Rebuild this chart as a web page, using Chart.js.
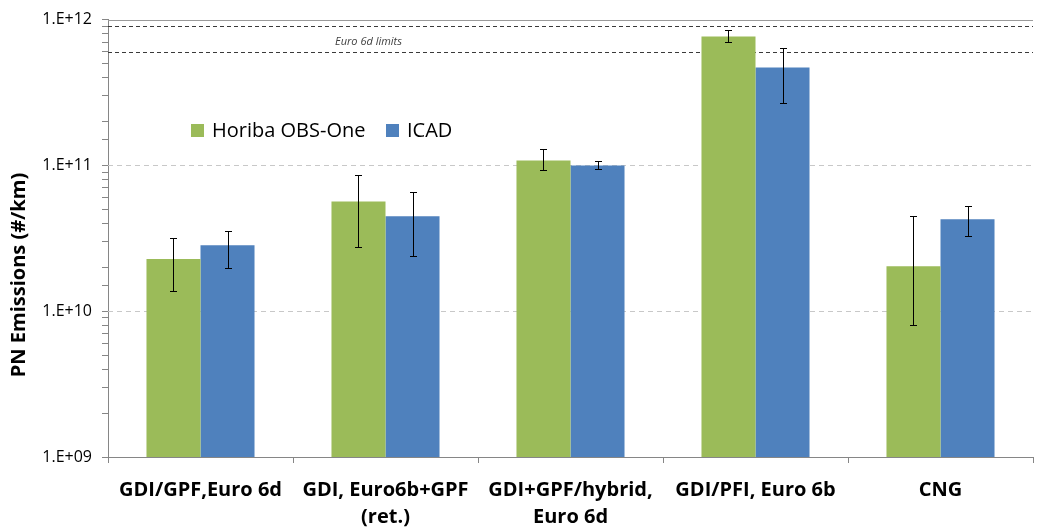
<!DOCTYPE html>
<html>
<head>
<meta charset="utf-8">
<script src="https://cdn.jsdelivr.net/npm/chart.js@4.4.1/dist/chart.umd.min.js"></script>
<style>
  html, body { margin: 0; padding: 0; background: #ffffff; }
  #wrap { width: 1037px; height: 527px; position: relative; }
</style>
</head>
<body>
<div id="wrap"><canvas id="pnChart"></canvas></div>
<script>
const categories = [
  ["GDI/GPF,Euro 6d"],
  ["GDI, Euro6b+GPF", "(ret.)"],
  ["GDI+GPF/hybrid,", "Euro 6d"],
  ["GDI/PFI, Euro 6b"],
  ["CNG"],
];
const seriesNames = ["Horiba OBS-One", "ICAD"];
const horibaValues  = [2.28e10, 5.66e10, 1.08e11, 7.66e11, 2.03e10];
const horibaErrLow  = [1.37e10, 2.74e10, 9.37e10, 7.04e11, 8.0e9];
const horibaErrHigh = [3.18e10, 8.55e10, 1.30e11, 8.5e11, 4.48e10];
const icadValues    = [2.83e10, 4.48e10, 1.0e11, 4.69e11, 4.27e10];
const icadErrLow    = [1.99e10, 2.38e10, 9.4e10, 2.66e11, 3.3e10];
const icadErrHigh   = [3.57e10, 6.53e10, 1.08e11, 6.4e11, 5.3e10];
const limitValues   = [6e11, 9e11];
const limitLabel    = "Euro 6d limits";
const yTickValues   = [1e9, 1e10, 1e11, 1e12];
const yTitle        = "PN Emissions (#/km)";

const FONT = "'Open Sans', sans-serif";

const overlayPlugin = {
  id: "overlay",
  beforeDatasetsDraw(chart) {
    const { ctx, chartArea } = chart;
    const y = chart.scales.y;
    ctx.save();
    // dashed major gridlines
    ctx.lineWidth = 1;
    yTickValues.forEach((v) => {
      if (v === yTickValues[0]) return;
      const py = Math.round(y.getPixelForValue(v)) + 0.5;
      ctx.beginPath();
      if (v === yTickValues[yTickValues.length - 1]) {
        ctx.setLineDash([]);
        ctx.strokeStyle = "#9a9a9a";
      } else {
        ctx.setLineDash([5, 4]);
        ctx.strokeStyle = "#c8c8c8";
      }
      ctx.moveTo(chartArea.left, py);
      ctx.lineTo(chartArea.right, py);
      ctx.stroke();
    });
    // limit lines
    ctx.setLineDash([4, 3]);
    ctx.strokeStyle = "#3a3a3a";
    limitValues.forEach((v) => {
      const py = Math.round(y.getPixelForValue(v)) + 0.5;
      ctx.beginPath();
      ctx.moveTo(chartArea.left, py);
      ctx.lineTo(chartArea.right, py);
      ctx.stroke();
    });
    ctx.setLineDash([]);
    const yLo = y.getPixelForValue(limitValues[0]);
    const yHi = y.getPixelForValue(limitValues[1]);
    ctx.fillStyle = "#404040";
    ctx.font = "italic 11px " + FONT;
    ctx.textAlign = "left";
    ctx.textBaseline = "middle";
    ctx.fillText(limitLabel, 335, (yLo + yHi) / 2 + 3);
    ctx.restore();
  },
  afterDatasetsDraw(chart) {
    const { ctx } = chart;
    const y = chart.scales.y;
    const lows = [horibaErrLow, icadErrLow];
    const highs = [horibaErrHigh, icadErrHigh];
    ctx.save();
    ctx.strokeStyle = "#000000";
    ctx.lineWidth = 1;
    chart.data.datasets.forEach((ds, di) => {
      const meta = chart.getDatasetMeta(di);
      meta.data.forEach((bar, i) => {
        const x = Math.round(bar.x) + 0.5;
        const top = Math.round(y.getPixelForValue(highs[di][i])) + 0.5;
        const bot = Math.round(y.getPixelForValue(lows[di][i])) + 0.5;
        ctx.beginPath();
        ctx.moveTo(x, top);
        ctx.lineTo(x, bot);
        ctx.moveTo(x - 3.5, top);
        ctx.lineTo(x + 3.5, top);
        ctx.moveTo(x - 3.5, bot);
        ctx.lineTo(x + 3.5, bot);
        ctx.stroke();
      });
    });
    // legend inside plot
    ctx.font = "20px " + FONT;
    ctx.textBaseline = "middle";
    ctx.textAlign = "left";
    const legendX = [191, 386];
    const legendY = 130;
    chart.data.datasets.forEach((ds, di) => {
      ctx.fillStyle = ds.backgroundColor;
      ctx.fillRect(legendX[di], legendY - 6, 13, 13);
      ctx.fillStyle = "#000000";
      ctx.fillText(ds.label, legendX[di] + 21, legendY + 1);
    });
    // y axis title
    ctx.translate(19, 275);
    ctx.rotate(-Math.PI / 2);
    ctx.textAlign = "center";
    ctx.font = "bold 20px " + FONT;
    ctx.fillText(yTitle, 0, 0);
    ctx.restore();
  },
};

new Chart(document.getElementById("pnChart"), {
  type: "bar",
  data: {
    labels: categories,
    datasets: [
      {
        label: seriesNames[0],
        data: horibaValues,
        backgroundColor: "#9bbb59",
        barPercentage: 1,
        categoryPercentage: 0.584,
      },
      {
        label: seriesNames[1],
        data: icadValues,
        backgroundColor: "#4f81bd",
        barPercentage: 1,
        categoryPercentage: 0.584,
      },
    ],
  },
  plugins: [overlayPlugin],
  options: {
    responsive: true,
    maintainAspectRatio: false,
    animation: false,
    layout: { padding: { top: 19, right: 4, left: 0, bottom: 0 } },
    plugins: {
      legend: { display: false },
      tooltip: { enabled: false },
    },
    scales: {
      x: {
        grid: {
          drawOnChartArea: false,
          tickLength: 6,
          tickColor: "#868686",
          offset: true,
        },
        border: { color: "#868686" },
        ticks: {
          color: "#000000",
          font: { family: FONT, size: 20, weight: "bold", lineHeight: 1.35 },
          maxRotation: 0,
          autoSkip: false,
          padding: 14,
        },
        afterFit: (s) => { s.height = 70; },
      },
      y: {
        type: "logarithmic",
        min: 1e9,
        max: 1e12,
        grid: {
          drawOnChartArea: false,
          tickLength: 6,
          tickColor: "#868686",
        },
        border: { color: "#868686" },
        ticks: {
          color: "#000000",
          font: { family: FONT, size: 16 },
          padding: 10,
          autoSkip: false,
          callback: (v) => {
            if (!yTickValues.includes(v)) return "";
            const e = Math.round(Math.log10(v));
            return "1.E+" + String(e).padStart(2, "0");
          },
        },
        afterFit: (s) => { s.width = 108; },
      },
    },
  },
});
</script>
</body>
</html>
